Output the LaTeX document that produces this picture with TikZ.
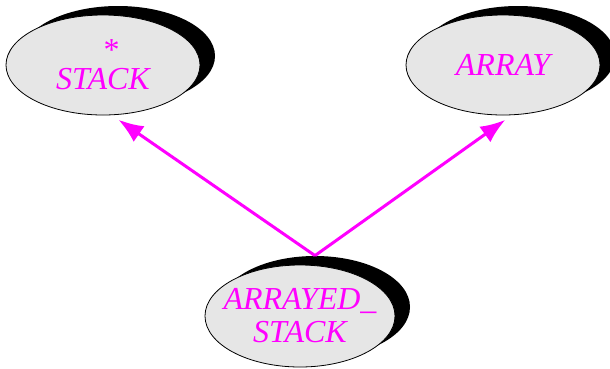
\documentclass[tikz,border=0pt]{standalone}
\usepackage{fontspec}
\setmainfont{Liberation Serif}
\usetikzlibrary{arrows.meta,calc,shapes.geometric,shadows}
\definecolor{magenta}{HTML}{FF00FF}
\definecolor{shade}{HTML}{E6E6E6}

\begin{document}
\begin{tikzpicture}[x=1pt,y=-1pt,>={Latex[length=25pt,width=19pt]},
  font=\fontsize{32}{33}\selectfont\itshape,text=magenta,
  cls/.style={ellipse,draw=black,thick,fill=shade,inner sep=0pt,
    minimum width=194pt,minimum height=100pt,align=center,
    drop shadow={shadow xshift=15pt,shadow yshift=9pt,fill=black,opacity=1}},
  inherit/.style={->,magenta,line width=3pt,shorten >=8pt}]
  \useasboundingbox (0,0) rectangle (610,368);
  \node[cls] (stack) at (103,65) {\hspace*{14pt}*\\[-4pt]STACK};
  \node[cls] (array) at (503,65) {ARRAY};
  \node[cls,inner xsep=-18pt,inner ysep=-4pt,minimum width=190pt,minimum height=102pt]
    (arrstack) at (300,316) {ARRAYED\_\\STACK};
  \coordinate (fork) at ($(arrstack.north)+(15,-9)$);
  \draw[inherit] (fork)--(stack.-80);
  \draw[inherit] (fork)--(array.-80);
\end{tikzpicture}
\end{document}
